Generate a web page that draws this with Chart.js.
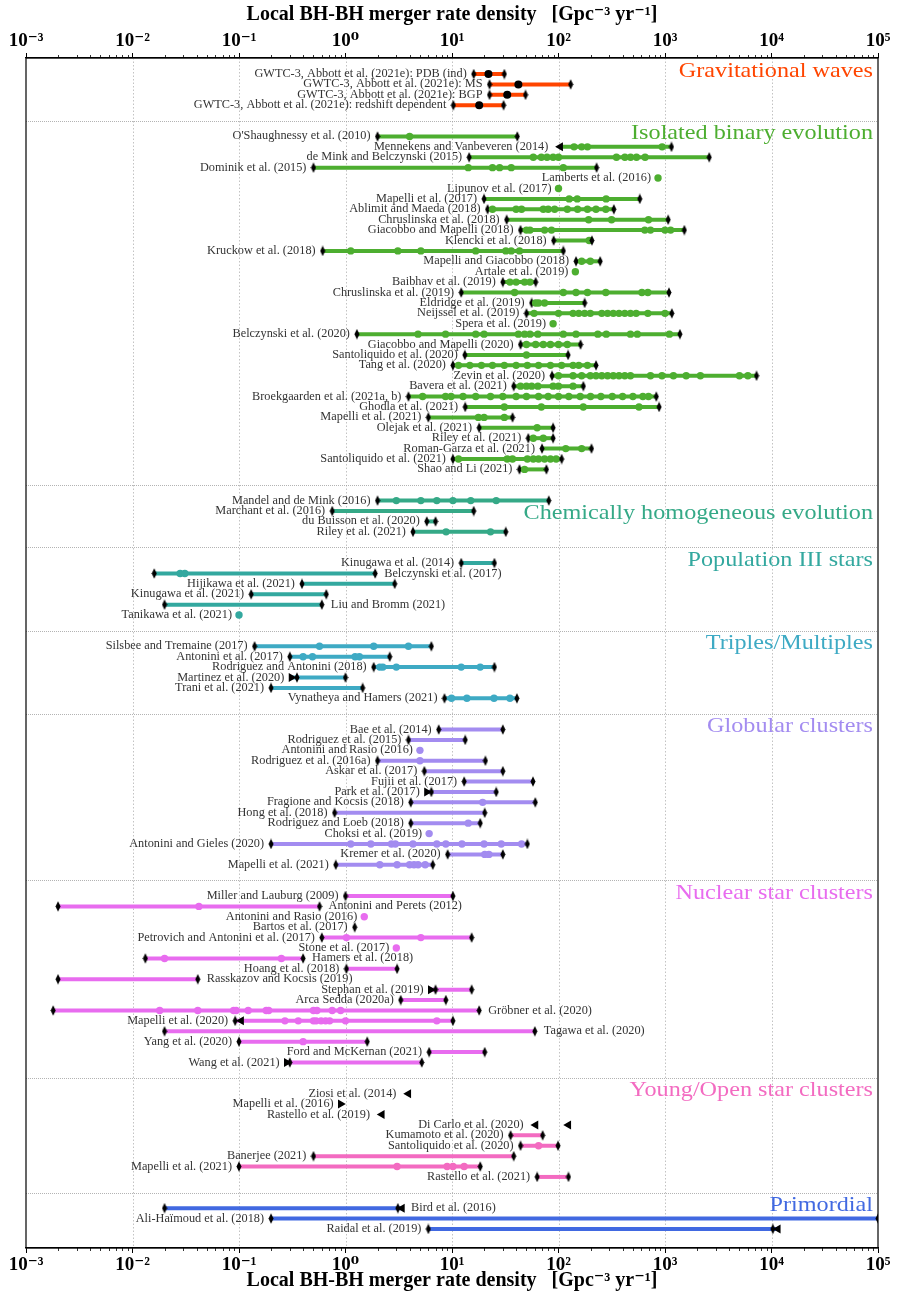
<!DOCTYPE html>
<html><head><meta charset="utf-8">
<script src="https://cdn.jsdelivr.net/npm/chart.js@4.4.1/dist/chart.umd.min.js"></script>
<style>html,body{margin:0;padding:0;background:#fff;}#wrap{width:897px;height:1294px;}</style>
</head><body><div id="wrap"><canvas id="c" width="897" height="1294"></canvas></div>
<script>
// ---------------- DATA ----------------
const xTickValues = [1e-3, 1e-2, 1e-1, 1, 1e1, 1e2, 1e3, 1e4, 1e5];
const xTickLabels = ["10⁻³", "10⁻²", "10⁻¹", "10⁰", "10¹", "10²", "10³", "10⁴", "10⁵"];
const axisTitle = "Local BH-BH merger rate density   [Gpc⁻³ yr⁻¹]";

const categoryNames = ["Gravitational waves", "Isolated binary evolution", "Chemically homogeneous evolution",
  "Population III stars", "Triples/Multiples", "Globular clusters", "Nuclear star clusters",
  "Young/Open star clusters", "Primordial"];

// rows: [label, values (sorted), optional per-value marks: d=range end, o=estimate, <=upper limit, >=lower limit]
const gwRows = [
  ["GWTC-3, Abbott et al. (2021e): PDB (ind)", [16, 22, 31]],
  ["GWTC-3, Abbott et al. (2021e): MS", [22.5, 42, 130]],
  ["GWTC-3, Abbott et al. (2021e): BGP", [22.5, 33, 49]],
  ["GWTC-3, Abbott et al. (2021e): redshift dependent", [10.3, 18, 30.5]]
];
const isolatedRows = [
  ["O'Shaughnessy et al. (2010)", [2.0, 4.0, 41]],
  ["Mennekens and Vanbeveren (2014)", [104, 140, 165, 187, 940, 1150], "<ooood"],
  ["de Mink and Belczynski (2015)", [14.5, 58, 69, 78, 89, 100, 350, 420, 475, 540, 650, 2600]],
  ["Dominik et al. (2015)", [0.5, 14.2, 24, 28, 36, 111, 228]],
  ["Lamberts et al. (2016)", [860]],
  ["Lipunov et al. (2017)", [100]],
  ["Mapelli et al. (2017)", [20, 126, 150, 280, 580]],
  ["Ablimit and Maeda (2018)", [21.6, 24, 40, 45, 72, 80, 92, 121, 151, 187, 225, 278, 331]],
  ["Chruslinska et al. (2018)", [32.6, 192, 315, 700, 1070]],
  ["Giacobbo and Mapelli (2018)", [44, 50, 54, 74, 86, 646, 731, 1000, 1130, 1520]],
  ["Klencki et al. (2018)", [90, 194, 206]],
  ["Kruckow et al. (2018)", [0.61, 1.12, 3.1, 5.1, 16.7, 32, 36, 43, 111]],
  ["Mapelli and Giacobbo (2018)", [146, 165, 199, 246]],
  ["Artale et al. (2019)", [144]],
  ["Baibhav et al. (2019)", [30, 35, 40, 48, 54, 61]],
  ["Chruslinska et al. (2019)", [12.2, 38.7, 111, 146, 187, 278, 607, 690, 1090]],
  ["Eldridge et al. (2019)", [56, 61, 65, 74, 176]],
  ["Neijssel et al. (2019)", [50, 59, 100, 137, 155, 176, 199, 255, 289, 327, 370, 419, 474, 536, 690, 1000, 1160]],
  ["Spera et al. (2019)", [89]],
  ["Belczynski et al. (2020)", [1.28, 4.8, 8.7, 16.7, 20, 42, 48, 54, 64, 111, 146, 234, 281, 474, 550, 1100, 1380]],
  ["Giacobbo and Mapelli (2020)", [44, 50, 61, 72, 84, 100, 121, 161]],
  ["Santoliquido et al. (2020)", [13.2, 50, 123]],
  ["Tang et al. (2020)", [10.2, 11.5, 14.7, 18.9, 24, 31, 40, 51, 65, 84, 107, 137, 155, 187, 225]],
  ["Zevin et al. (2020)", [87, 100, 137, 165, 199, 225, 255, 289, 327, 370, 419, 474, 731, 937, 1200, 1580, 2150, 5000, 6000, 7240]],
  ["Bavera et al. (2021)", [38, 44, 50, 56, 64, 89, 100, 137, 171]],
  ["Broekgaarden et al. (2021a, b)", [3.9, 5.3, 8.7, 9.8, 12.7, 16.7, 23, 30, 40, 50, 65, 80, 100, 125, 160, 200, 250, 320, 400, 500, 620, 700, 828]],
  ["Ghodla et al. (2021)", [13.3, 31, 69, 171, 570, 880]],
  ["Mapelli et al. (2021)", [6.0, 17.7, 20, 31, 37]],
  ["Olejak et al. (2021)", [18, 63, 89]],
  ["Riley et al. (2021)", [52, 58, 72, 89]],
  ["Roman-Garza et al. (2021)", [70, 117, 165, 204]],
  ["Santoliquido et al. (2021)", [10.2, 11.5, 33, 37, 51, 58, 65, 74, 84, 95, 107]],
  ["Shao and Li (2021)", [43, 48, 77]]
];
const cheRows = [
  ["Mandel and de Mink (2016)", [2.0, 3.0, 5.1, 7.2, 10.2, 15, 26, 81]],
  ["Marchant et al. (2016)", [0.75, 16]],
  ["du Buisson et al. (2020)", [5.8, 7.0]],
  ["Riley et al. (2021)", [4.3, 8.8, 23, 32]]
];
const pop3Rows = [
  ["Kinugawa et al. (2014)", [12.2, 25]],
  ["Belczynski et al. (2017)", [0.016, 0.028, 0.031, 1.9]],
  ["Hijikawa et al. (2021)", [0.39, 2.9]],
  ["Kinugawa et al. (2021)", [0.13, 0.66]],
  ["Liu and Bromm (2021)", [0.02, 0.6]],
  ["Tanikawa et al. (2021)", [0.1]]
];
const triplesRows = [
  ["Silsbee and Tremaine (2017)", [0.14, 0.57, 1.84, 3.9, 6.4]],
  ["Antonini et al. (2017)", [0.3, 0.4, 0.49, 1.23, 1.35, 2.6]],
  ["Rodriguez and Antonini (2018)", [1.84, 2.1, 2.24, 3.0, 12.2, 18.4, 25]],
  ["Martinez et al. (2020)", [0.31, 0.35, 1.0], ">dd"],
  ["Trani et al. (2021)", [0.2, 1.45]],
  ["Vynatheya and Hamers (2021)", [8.5, 9.9, 13.8, 24.8, 35, 40.7]]
];
const globularRows = [
  ["Bae et al. (2014)", [7.5, 30]],
  ["Rodriguez et al. (2015)", [3.9, 13.3]],
  ["Antonini and Rasio (2016)", [5.0]],
  ["Rodriguez et al. (2016a)", [2.0, 5.0, 20.6]],
  ["Askar et al. (2017)", [5.5, 30]],
  ["Fujii et al. (2017)", [13, 57.6]],
  ["Park et al. (2017)", [5.8, 6.4, 26], ">dd"],
  ["Fragione and Kocsis (2018)", [4.1, 19.4, 60.5]],
  ["Hong et al. (2018)", [0.79, 20.3]],
  ["Rodriguez and Loeb (2018)", [4.1, 14.2, 18.4]],
  ["Choksi et al. (2019)", [6.1]],
  ["Antonini and Gieles (2020)", [0.2, 1.12, 1.73, 2.7, 2.94, 4.3, 7.2, 8.75, 12.4, 20, 29, 45, 51]],
  ["Kremer et al. (2020)", [9.1, 20.3, 22.2, 30]],
  ["Mapelli et al. (2021)", [0.81, 2.1, 3.05, 4.0, 4.4, 4.8, 5.6, 6.6]]
];
const nuclearRows = [
  ["Miller and Lauburg (2009)", [1.0, 10.2]],
  ["Antonini and Perets (2012)", [0.002, 0.042, 0.57]],
  ["Antonini and Rasio (2016)", [1.5]],
  ["Bartos et al. (2017)", [1.22], "d"],
  ["Petrovich and Antonini et al. (2017)", [0.6, 1.02, 5.1, 15.3]],
  ["Stone et al. (2017)", [3.0]],
  ["Hamers et al. (2018)", [0.0132, 0.02, 0.25, 0.4]],
  ["Hoang et al. (2018)", [1.02, 3.05]],
  ["Rasskazov and Kocsis (2019)", [0.002, 0.041]],
  ["Stephan et al. (2019)", [6.3, 7.0, 15.3], ">dd"],
  ["Arca Sedda (2020a)", [3.3, 8.75]],
  ["Gröbner et al. (2020)", [0.0018, 0.018, 0.041, 0.089, 0.094, 0.122, 0.18, 0.19, 0.5, 0.54, 0.75, 0.9, 18]],
  ["Mapelli et al. (2020)", [0.092, 0.105, 0.27, 0.36, 0.5, 0.53, 0.59, 0.65, 0.71, 1.0, 7.2, 10.2], "d<oooooooood"],
  ["Tagawa et al. (2020)", [0.02, 60]],
  ["Yang et al. (2020)", [0.1, 0.4, 1.6]],
  ["Ford and McKernan (2021)", [6.1, 20.3]],
  ["Wang et al. (2021)", [0.28, 0.3, 5.2], ">dd"]
];
const youngRows = [
  ["Ziosi et al. (2014)", [3.9], "<"],
  ["Mapelli et al. (2016)", [0.9], ">"],
  ["Rastello et al. (2019)", [2.2], "<"],
  ["Di Carlo et al. (2020)", [61, 124], "<<"],
  ["Kumamoto et al. (2020)", [35.5, 71]],
  ["Santoliquido et al. (2020)", [44, 65, 99]],
  ["Banerjee (2021)", [0.5, 38]],
  ["Mapelli et al. (2021)", [0.1, 3.05, 9.0, 10.2, 13, 18.4]],
  ["Rastello et al. (2021)", [63, 124]]
];
const primordialRows = [
  ["Bird et al. (2016)", [0.02, 3.1, 3.4], "dd<"],
  ["Ali-Haïmoud et al. (2018)", [0.2, 1e5]],
  ["Raidal et al. (2019)", [6.0, 10300, 11500], "dd<"]
];
const labelsOnRight = ["Belczynski et al. (2017)", "Liu and Bromm (2021)", "Antonini and Perets (2012)",
  "Hamers et al. (2018)", "Rasskazov and Kocsis (2019)", "Gröbner et al. (2020)", "Tagawa et al. (2020)", "Bird et al. (2016)"];
const rowsWithoutLine = ["Di Carlo et al. (2020)"];

// ---------------- STYLE ----------------
const categoryRows = [gwRows, isolatedRows, cheRows, pop3Rows, triplesRows, globularRows, nuclearRows, youngRows, primordialRows];
const categoryColors = ["#ff4500", "#4dae30", "#35a987", "#33a89f", "#3eaac4", "#a38cf0", "#e86cef", "#f36bc1", "#4169e1"];
const estimateColors = ["#000000", "#4dae30", "#35a987", "#33a89f", "#3eaac4", "#a38cf0", "#e86cef", "#f36bc1", "#4169e1"];
const titleRowShift = [-0.3, -0.3, 1.2, -0.3, -0.3, -0.3, -0.3, -0.3, -0.3];
const SERIF = '"Liberation Serif", "DejaVu Serif", serif';

const thinDiamond = (() => {
  const c = document.createElement('canvas'); c.width = 6; c.height = 11;
  const g = c.getContext('2d'); g.fillStyle = '#000';
  g.beginPath(); g.moveTo(3, 0.3); g.lineTo(5.5, 5.5); g.lineTo(3, 10.7); g.lineTo(0.5, 5.5); g.closePath(); g.fill();
  return c;
})();

// build datasets & row positions
const datasets = [];
const rowInfo = [];
const sepRows = [];
const titleRows = [];
let yPos = 0;
categoryRows.forEach((rows, ci) => {
  if (ci > 0) { sepRows.push(yPos - 1 + 1.5); yPos += 2; }
  titleRows.push(yPos + titleRowShift[ci]);
  rows.forEach(r => {
    const label = r[0], vals = r[1];
    const marks = r[2] || (vals.length === 1 ? 'o' : 'd' + 'o'.repeat(vals.length - 2) + 'd');
    const mk = [...marks];
    datasets.push({
      data: vals.map(v => ({ x: v, y: yPos })),
      showLine: vals.length > 1 && !rowsWithoutLine.includes(label),
      borderColor: categoryColors[ci],
      borderWidth: 4,
      tension: 0,
      pointStyle: mk.map(c => c === 'd' ? thinDiamond : (c === 'o' ? 'circle' : 'triangle')),
      pointRotation: mk.map(c => c === '<' ? -90 : (c === '>' ? 90 : 0)),
      pointRadius: mk.map(c => c === 'o' ? (ci === 0 ? 4 : 3.7) : 5.2),
      pointHoverRadius: mk.map(c => c === 'o' ? 3.7 : 5.2),
      pointBackgroundColor: mk.map(c => c === 'o' ? estimateColors[ci] : '#000'),
      pointBorderColor: mk.map(c => c === 'o' ? estimateColors[ci] : '#000'),
      pointBorderWidth: 0
    });
    rowInfo.push({ label, vals, mk, y: yPos, right: labelsOnRight.includes(label) });
    yPos += 1;
  });
});
const lastRow = yPos - 1;

function stretchedText(ctx, text, x, y, sx) {
  ctx.save(); ctx.translate(x, y); ctx.scale(sx, 1); ctx.fillText(text, 0, 0); ctx.restore();
}

const decor = {
  id: 'decor',
  beforeDatasetsDraw(chart) {
    const { ctx, chartArea: a, scales } = chart;
    const xs = scales.x, ys = scales.y;
    ctx.save();
    ctx.strokeStyle = '#b4b4b4'; ctx.lineWidth = 0.8; ctx.setLineDash([1.5, 2]);
    xTickValues.forEach(v => {
      const px = Math.round(xs.getPixelForValue(v)) + 0.5;
      if (px <= a.left + 1 || px >= a.right - 1) return;
      ctx.beginPath(); ctx.moveTo(px, a.top); ctx.lineTo(px, a.bottom); ctx.stroke();
    });
    ctx.strokeStyle = '#a0a0a0'; ctx.setLineDash([1, 1]);
    sepRows.forEach(r => {
      const py = Math.round(ys.getPixelForValue(r)) + 0.5;
      ctx.beginPath(); ctx.moveTo(a.left, py); ctx.lineTo(a.right, py); ctx.stroke();
    });
    ctx.restore();
  },
  afterDatasetsDraw(chart) {
    const { ctx, chartArea: a, scales } = chart;
    const xs = scales.x, ys = scales.y;
    ctx.save();
    ctx.font = '11.6px ' + SERIF; ctx.fillStyle = '#333'; ctx.textBaseline = 'middle';
    rowInfo.forEach(r => {
      const py = ys.getPixelForValue(r.y);
      if (r.right) {
        const px = xs.getPixelForValue(r.vals[r.vals.length - 1]);
        ctx.textAlign = 'left'; stretchedText(ctx, r.label, px + 9, py, 1.06);
      } else {
        const px = xs.getPixelForValue(r.vals[0]);
        const off = r.mk[0] === '<' ? 12 : 7;
        ctx.textAlign = 'right'; stretchedText(ctx, r.label, px - off, py, 1.06);
      }
    });
    ctx.font = '22px ' + SERIF; ctx.textAlign = 'right';
    categoryNames.forEach((n, i) => {
      ctx.fillStyle = categoryColors[i];
      stretchedText(ctx, n, a.right - 5, ys.getPixelForValue(titleRows[i]), 1.1);
    });
    // frame and minor ticks
    ctx.strokeStyle = '#000'; ctx.lineWidth = 1.2;
    ctx.strokeRect(a.left, a.top, a.right - a.left, a.bottom - a.top);
    ctx.lineWidth = 0.8;
    for (let e = -3; e < 5; e++) {
      for (let k = 2; k <= 9; k++) {
        const px = Math.round(xs.getPixelForValue(k * Math.pow(10, e))) + 0.5;
        ctx.beginPath(); ctx.moveTo(px, a.bottom); ctx.lineTo(px, a.bottom + 3);
        ctx.moveTo(px, a.top); ctx.lineTo(px, a.top - 3); ctx.stroke();
      }
    }
    ctx.restore();
  }
};

function xAxis(pos, h) {
  return {
    type: 'logarithmic', position: pos, min: 1e-3, max: 1e5,
    afterBuildTicks: s => { s.ticks = xTickValues.map(v => ({ value: v, major: true })); },
    afterFit: s => { s.height = h; },
    ticks: {
      autoSkip: false, maxRotation: 0, padding: 1, color: '#000',
      font: { family: SERIF, size: 19, weight: 'bold' },
      callback: (v, i) => xTickLabels[i]
    },
    grid: { drawOnChartArea: false, drawTicks: true, tickLength: 5, tickColor: '#000', tickWidth: 1 },
    border: { display: true, color: '#000', width: 1.2 },
    title: { display: true, text: axisTitle, color: '#000',
      font: { family: SERIF, size: 20, weight: 'bold' }, padding: { top: 3, bottom: 1 } }
  };
}

new Chart(document.getElementById('c'), {
  type: 'scatter',
  data: { datasets },
  options: {
    responsive: false, animation: false, events: [],
    layout: { padding: { left: 26, right: 19, top: 0, bottom: 0 } },
    plugins: { legend: { display: false }, tooltip: { enabled: false } },
    scales: {
      x: xAxis('bottom', 46),
      x2: xAxis('top', 58),
      y: { type: 'linear', display: false, reverse: true, min: -1.54, max: lastRow + 1.83 }
    }
  },
  plugins: [decor]
});
</script></body></html>
